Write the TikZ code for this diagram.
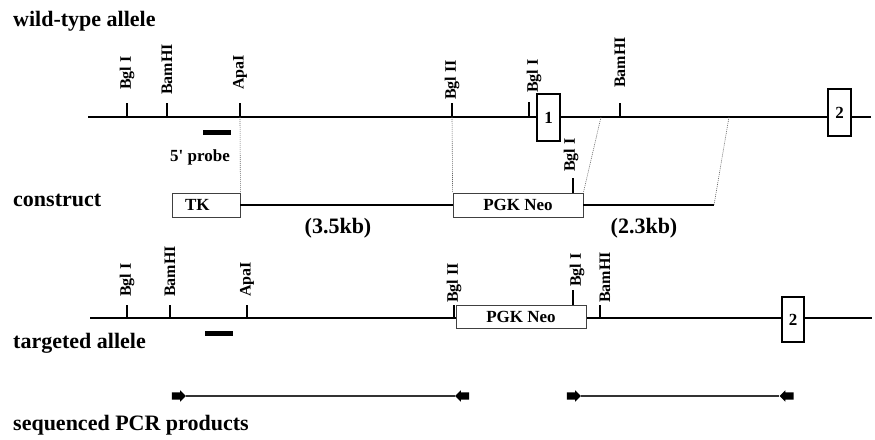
\documentclass[tikz,border=0pt]{standalone}
\usepackage{fontspec}
\setmainfont{Liberation Serif}
\usetikzlibrary{shapes.arrows}
\newcommand\cutsite[6]{%
  \draw[site] (#1,#2) -- (#1,#3);
  \node[lab] at (#4,#5) {#6};}
\begin{document}
\begin{tikzpicture}[x=1pt,y=-1pt,
  dna/.style={line width=2.8pt},
  site/.style={line width=2.3pt},
  lab/.style={rotate=90,anchor=west,font=\fontsize{16}{16}\selectfont\bfseries,inner sep=0pt},
  title/.style={anchor=west,font=\fontsize{22}{22}\selectfont\bfseries,inner sep=0pt},
  kb/.style={font=\fontsize{22}{22}\selectfont\bfseries,inner sep=0pt},
  exon/.style={draw,line width=2.2pt,fill=white,minimum width=23pt,minimum height=47pt,inner sep=0pt,font=\fontsize{17}{17}\selectfont\bfseries},
  cassette/.style={draw=black!75,line width=0.8pt,fill=white,minimum height=24pt,inner sep=0pt,font=\fontsize{17}{17}\selectfont\bfseries},
  guide/.style={draw=black!60,line width=0.6pt,dash pattern=on 1pt off 1pt},
  probe/.style={fill=black,minimum width=28pt,minimum height=5pt,inner sep=0pt},
  primer/.style={single arrow,fill=black,minimum height=14pt,inner sep=3.5pt,single arrow head extend=2pt},
  product/.style={line width=1.5pt,draw=black!80}]
\useasboundingbox (0,0) rectangle (875,439);

% ---------- titles
\node[title] (t1) at (13,21) {wild-type allele};
\node[title] (t2) at (13,200) {construct};
\node[title] (t3) at (13,343) {targeted allele};
\node[title] (t4) at (13,425) {sequenced PCR products};

% ---------- wild-type allele
\coordinate (wl) at (88,117);
\coordinate (wr) at (871,117);
\draw[dna] (wl) -- (wr);
\cutsite{127}{103}{117}{127}{90}{Bgl I}
\cutsite{167}{103}{117}{167}{95}{BamHI}
\cutsite{240}{103}{117}{240}{90}{ApaI}
\cutsite{452}{103}{117}{452}{100}{Bgl II}
\cutsite{529}{102}{117}{534}{93}{Bgl I}
\cutsite{620}{103}{117}{620}{88}{BamHI}
\node[exon] (ex1) at (548.5,117.5) {1};
\node[exon] (ex2) at (839.5,112.5) {2};
\node[probe] (pr1) at (217,132.5) {};
\node[font=\fontsize{17}{17}\selectfont\bfseries,inner sep=0pt] (plab) at (200,157) {5\textquotesingle{} probe};

% ---------- construct
\node[cassette,minimum width=68pt] (tk) at (206,205) {\makebox[42pt][l]{TK}};
\node[cassette,minimum width=130pt] (neo) at (518,205) {PGK Neo};
\coordinate (cend) at (714,205);
\draw[dna] (tk.east) -- (neo.west);
\draw[dna] (neo.east) -- (cend);
\cutsite{573}{178}{193}{571}{172}{Bgl I}
\node[kb] (kb1) at (338,228) {(3.5kb)};
\node[kb] (kb2) at (644,228) {(2.3kb)};

% ---------- homology guides
\coordinate (g1) at (240,117);
\coordinate (g2) at (452,117);
\coordinate (g3) at (601,117);
\coordinate (g4) at (729,117);
\draw[guide] (g1) -- (tk.north east);
\draw[guide] (g2) -- (neo.north west);
\draw[guide] (g3) -- (neo.north east);
\draw[guide] (g4) -- (cend);

% ---------- targeted allele
\coordinate (tl) at (90,318);
\coordinate (tr) at (872,318);
\draw[dna] (tl) -- (tr);
\cutsite{127}{305}{318}{127}{297}{Bgl I}
\cutsite{170}{305}{318}{170}{297}{BamHI}
\cutsite{247}{305}{318}{247}{297}{ApaI}
\cutsite{454}{305}{318}{454}{303}{Bgl II}
\cutsite{600}{305}{318}{605}{303}{BamHI}
\node[cassette,minimum width=130pt,minimum height=23pt] (neo2) at (521,316.5) {PGK Neo};
\cutsite{573}{290}{305}{577}{287}{Bgl I}
\node[exon,minimum width=22pt,minimum height=45pt] (ex2t) at (793,319.5) {2};
\node[probe] (pr2) at (219,333.5) {};

% ---------- PCR products
\node[primer] (p1) at (177,396) {};
\node[primer,shape border rotate=180] (p2) at (464,396) {};
\node[primer] (p3) at (572,396) {};
\node[primer,shape border rotate=180] (p4) at (788.5,396) {};
\draw[product] (p1.tip) -- (p2.tip);
\draw[product] (p3.tip) -- (p4.tip);
\end{tikzpicture}
\end{document}
